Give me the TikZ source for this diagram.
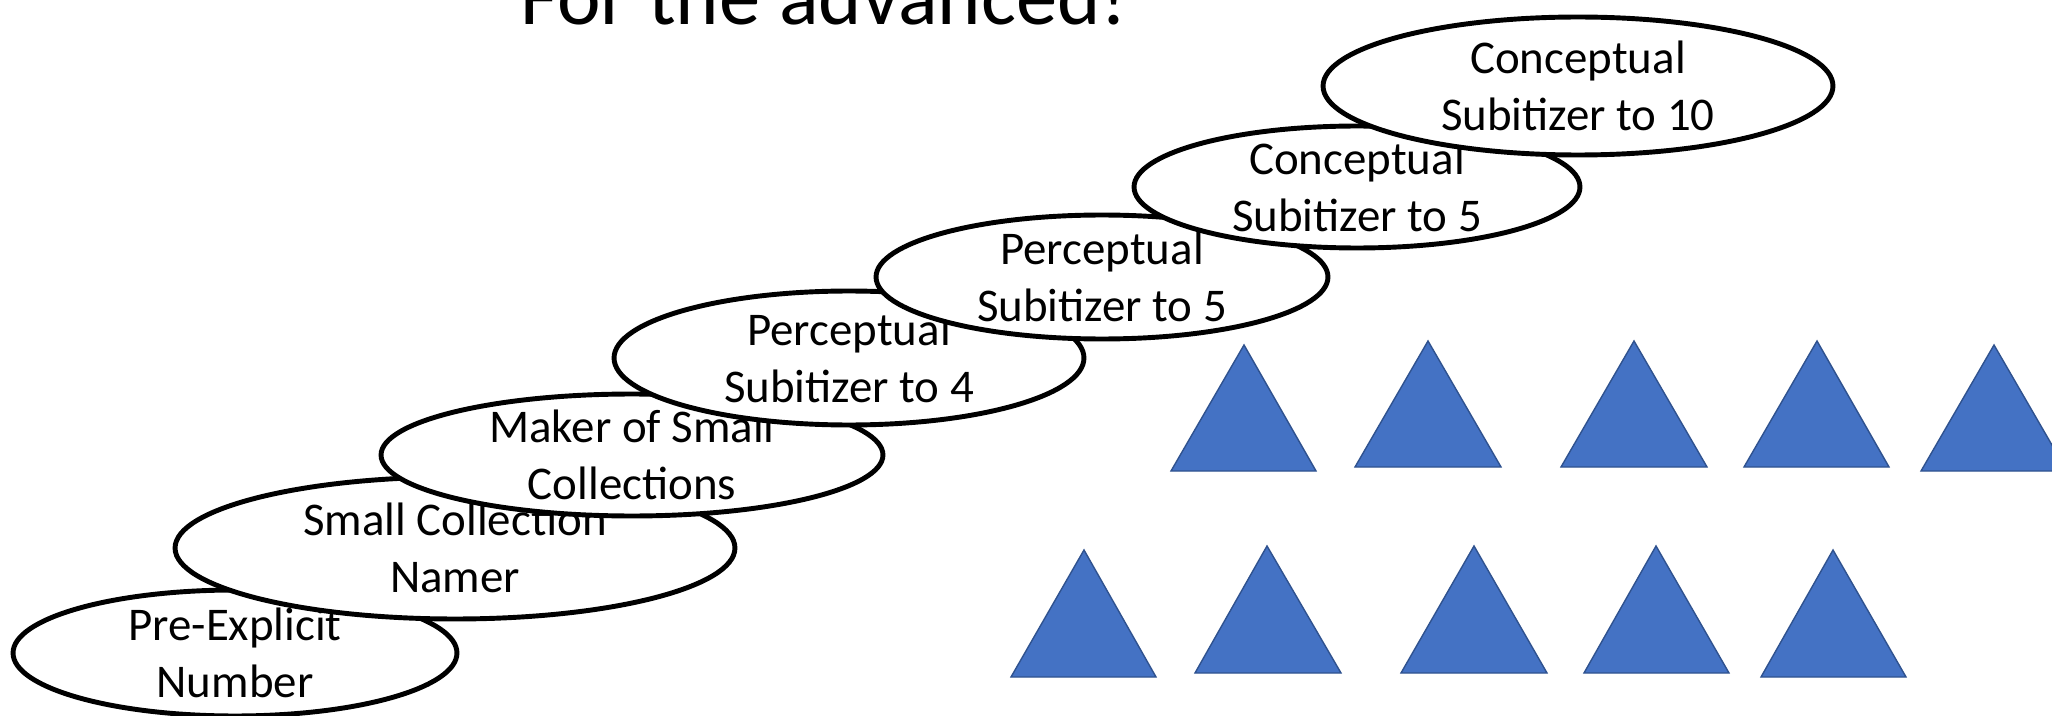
\documentclass[tikz,border=0pt]{standalone}
\usepackage{fontspec}
\setmainfont{Carlito}
\usetikzlibrary{shapes.geometric}
\definecolor{triblue}{HTML}{4472C4}
\definecolor{triedge}{HTML}{2F528F}
\tikzset{
  stage/.style={ellipse, draw=black, line width=2.8pt, fill=white, align=center,
    inner xsep=0pt, inner ysep=-4pt, font=\fontsize{26.7}{32.4}\selectfont},
  tri/.style={fill=triblue, draw=triedge, line width=0.8pt}
}
\begin{document}
\begin{tikzpicture}[x=0.02cm,y=-0.02cm]
  \useasboundingbox (0,0) rectangle (2052,716);
  \clip (0,0) rectangle (2052,716);
  \node[anchor=base, font=\fontsize{47}{56}\selectfont] (title) at (824,25) {For the advanced!};
  % the steps, lowest first
  \node[stage, minimum width=8.88cm, minimum height=2.52cm] (pre) at (235,653) {Pre-Explicit\\Number};
  \node[stage, minimum width=11.2cm, minimum height=2.84cm] (namer) at (455,548) {Small Collection\\Namer};
  \node[stage, minimum width=10.04cm, minimum height=2.44cm] (maker) at (632,455) {Maker of Small\\Collections};
  \node[stage, minimum width=9.4cm, minimum height=2.68cm] (percfour) at (849,358) {Perceptual\\Subitizer to 4};
  \node[stage, minimum width=9.04cm, minimum height=2.48cm] (percfive) at (1102,277) {Perceptual\\Subitizer to 5};
  \node[stage, minimum width=8.92cm, minimum height=2.44cm] (concfive) at (1357,187) {Conceptual\\Subitizer to 5};
  \node[stage, minimum width=10.2cm, minimum height=2.76cm] (concten) at (1578,86) {Conceptual\\Subitizer to 10};
  % triangles
  \draw[tri] (1171,471) -- (1244,345) -- (1316,471) -- cycle;
  \draw[tri] (1355,467) -- (1428,341) -- (1501,467) -- cycle;
  \draw[tri] (1561,467) -- (1634,341) -- (1707,467) -- cycle;
  \draw[tri] (1744,467) -- (1817,341) -- (1889,467) -- cycle;
  \draw[tri] (1921,471) -- (1994,345) -- (2067,471) -- cycle;
  \draw[tri] (1011,677) -- (1084,550) -- (1156,677) -- cycle;
  \draw[tri] (1195,673) -- (1267,546) -- (1341,673) -- cycle;
  \draw[tri] (1401,673) -- (1474,546) -- (1547,673) -- cycle;
  \draw[tri] (1584,673) -- (1656,546) -- (1729,673) -- cycle;
  \draw[tri] (1761,677) -- (1833,550) -- (1906,677) -- cycle;
\end{tikzpicture}
\end{document}
